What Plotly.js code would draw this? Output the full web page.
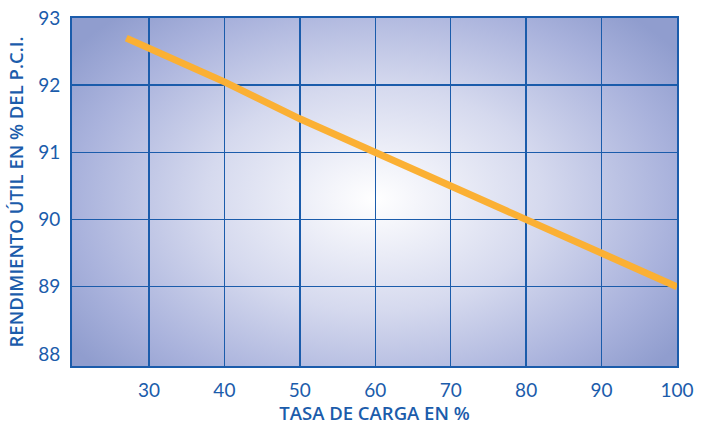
<!DOCTYPE html>
<html>
<head>
<meta charset="utf-8">
<script src="https://cdn.plot.ly/plotly-3.0.1.min.js"></script>
<style>
  html, body { margin: 0; padding: 0; background: #ffffff; }
  #wrap { position: relative; width: 703px; height: 425px; }
  #bg { position: absolute; left: 72px; top: 18px; width: 605px; height: 348px;
        background: radial-gradient(ellipse 62% 72% at 50% 52%, #ffffff 0%, #d5d9ee 45%, #a9b2dc 80%, #909dce 100%); }
  #chart { position: absolute; left: 0; top: 0; width: 703px; height: 425px; }
</style>
</head>
<body>
<div id="wrap">
  <div id="bg"></div>
  <div id="chart"></div>
</div>
<script>
var loadPct = [27, 40, 50, 60, 70, 80, 90, 100];
var efficiency = [92.7, 92.05, 91.5, 91.0, 90.5, 90.0, 89.5, 89.0];
var xTicks = [30, 40, 50, 60, 70, 80, 90, 100];
var yTicks = [88, 89, 90, 91, 92, 93];
var yGrid = [89, 90, 91, 92];

var blue = '#1b5cab';
var trace = {
  x: loadPct, y: efficiency, type: 'scatter', mode: 'lines',
  line: { color: '#fbb034', width: 7 }, hoverinfo: 'skip', showlegend: false
};
var gridTrace = {
  x: [loadPct[0]], y: [efficiency[0]], yaxis: 'y2', type: 'scatter', mode: 'markers',
  marker: { opacity: 0 }, hoverinfo: 'skip', showlegend: false
};
var yRange = [87.82, 93];
var layout = {
  width: 703, height: 425,
  margin: { l: 72, r: 26, t: 18, b: 59 },
  paper_bgcolor: 'rgba(0,0,0,0)', plot_bgcolor: 'rgba(0,0,0,0)',
  font: { family: '"Open Sans", Lato, sans-serif', color: blue },
  xaxis: {
    range: [19.8, 100], tickvals: xTicks, ticktext: xTicks.map(String),
    showgrid: true, gridcolor: blue, gridwidth: 1.5, zeroline: false,
    showline: true, linecolor: blue, linewidth: 2, mirror: true,
    ticks: '', tickfont: { family: 'Lato, sans-serif', size: 19, color: blue }, ticklabelstandoff: 6,
    title: { text: 'TASA DE CARGA EN %', font: { size: 18.5, color: blue, weight: 600 }, standoff: 17 }
  },
  yaxis: {
    range: yRange, tickvals: yTicks, ticktext: yTicks.map(String),
    showgrid: false, zeroline: false,
    showline: true, linecolor: blue, linewidth: 2, mirror: true,
    ticks: '', tickfont: { family: 'Lato, sans-serif', size: 19, color: blue }, ticklabelstandoff: 6,
    title: { text: 'RENDIMIENTO ÚTIL EN % DEL P.C.I.', font: { size: 18.5, color: blue, weight: 600 }, standoff: 10 }
  },
  yaxis2: {
    overlaying: 'y', range: yRange, tickvals: yGrid, showticklabels: false,
    showgrid: true, gridcolor: blue, gridwidth: 1.5, zeroline: false, showline: false, ticks: ''
  }
};
Plotly.newPlot('chart', [gridTrace, trace], layout, { displayModeBar: false, staticPlot: true });
</script>
</body>
</html>
